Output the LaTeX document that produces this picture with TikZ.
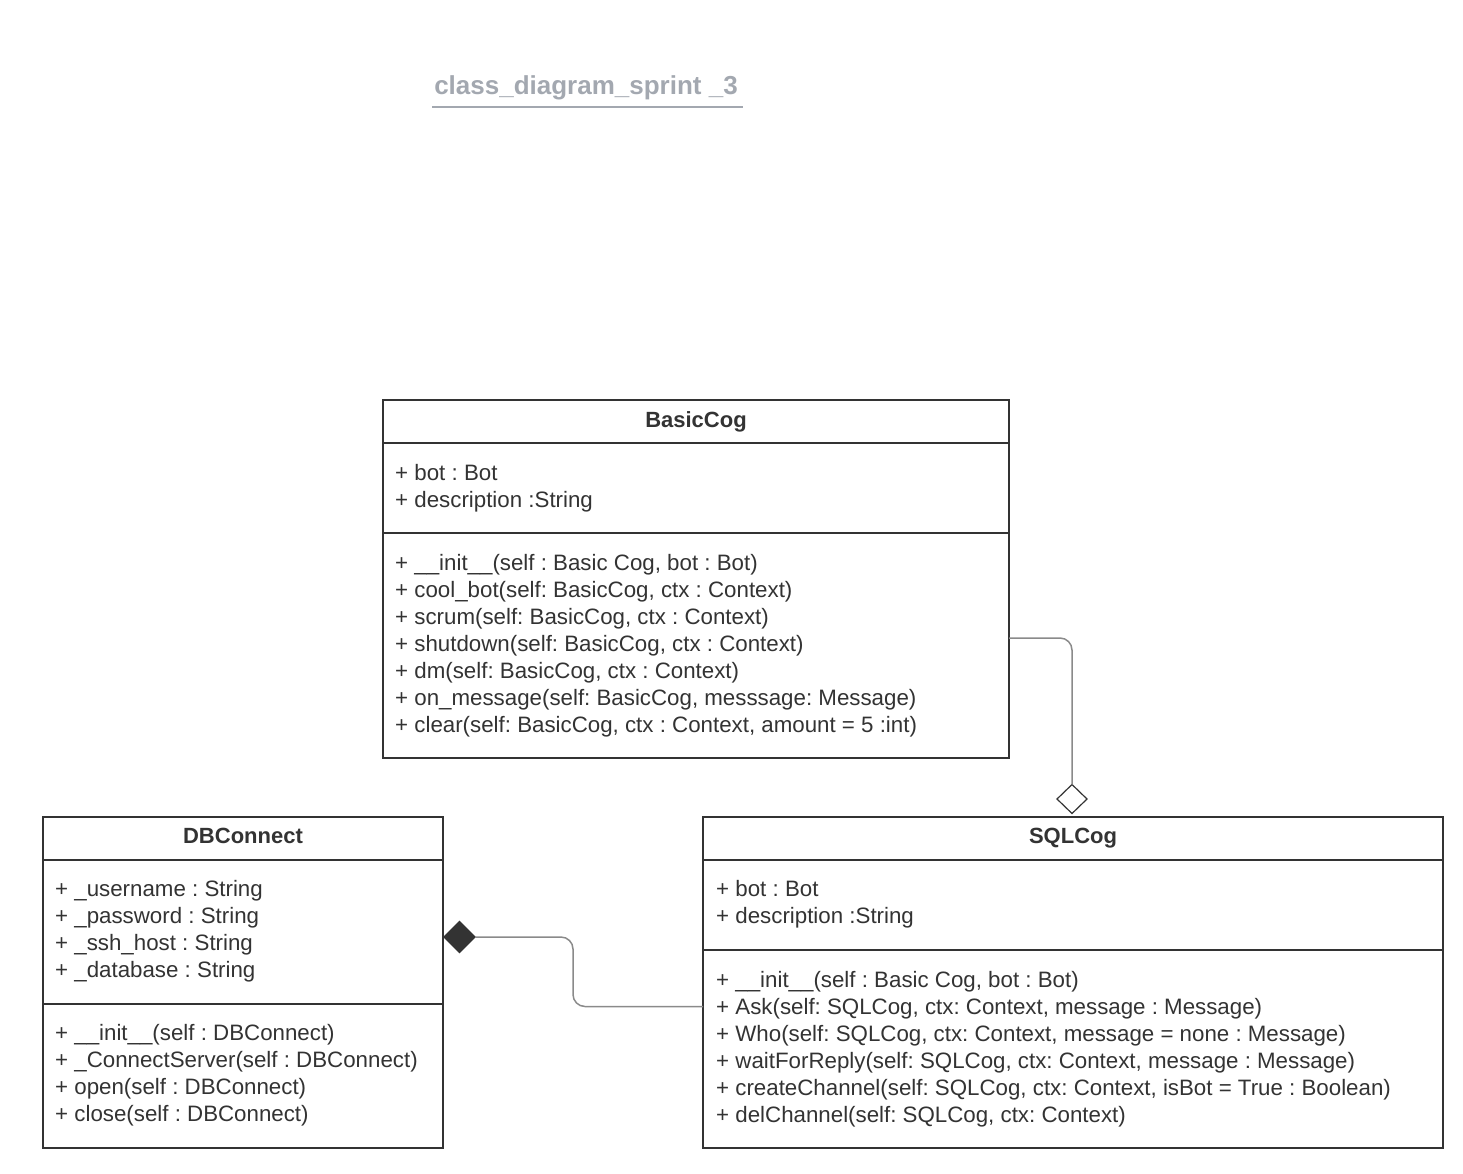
\documentclass[tikz,border=0pt]{standalone}
\usepackage{fontspec}
\setmainfont{Liberation Sans}
\usetikzlibrary{shapes.geometric}
\definecolor{ink}{HTML}{333333}
\definecolor{linkgray}{HTML}{8A8A8A}
\definecolor{titlegray}{HTML}{A3A8B0}
\frenchspacing
\begin{document}
\begin{tikzpicture}[x=1pt,y=-1pt,
  classbox/.style={draw=ink,line width=2pt,fill=white,anchor=north west,inner sep=0pt,outer sep=0pt},
  divider/.style={draw=ink,line width=2pt},
  member/.style={anchor=base west,inner sep=0pt,text=ink,font=\fontsize{22.3}{27}\selectfont},
  classname/.style={anchor=base,inner sep=0pt,text=ink,font=\fontsize{22}{27}\selectfont\bfseries},
  conn/.style={draw=linkgray,line width=1.5pt,rounded corners=12pt},
  aggdiamond/.style={shape=diamond,draw=ink,line width=1.2pt,fill=white,minimum width=30pt,minimum height=29pt,inner sep=0pt,outer sep=0pt},
  compdiamond/.style={shape=diamond,draw=ink,line width=1.2pt,fill=ink,minimum width=31pt,minimum height=31pt,inner sep=0pt,outer sep=0pt}]
\useasboundingbox (0,0) rectangle (1463,1173);

% document title
\node[anchor=base,inner sep=0pt,text=titlegray,font=\fontsize{26}{30}\selectfont\bfseries] (title) at (586,94) {class\_diagram\_sprint \_3};
\draw[titlegray,line width=2pt] (432,106.5) -- (743,106.5);

% ---------- BasicCog ----------
\node[classbox,minimum width=626pt,minimum height=358pt] (basic) at (383,400) {};
\draw[divider] (383,443) -- (1009,443);
\draw[divider] (383,533) -- (1009,533);
\node[classname] (basicname) at (696,427) {BasicCog};
\node[member] (ba1) at (395,480) {+ bot : Bot};
\node[member] (ba2) at (395,507) {+ description :String};
\node[member] (bm1) at (395,570) {+ \_\_init\_\_(self : Basic Cog, bot : Bot)};
\node[member] (bm2) at (395,597) {+ cool\_bot(self: BasicCog, ctx : Context)};
\node[member] (bm3) at (395,624) {+ scrum(self: BasicCog, ctx : Context)};
\node[member] (bm4) at (395,651) {+ shutdown(self: BasicCog, ctx : Context)};
\node[member] (bm5) at (395,678) {+ dm(self: BasicCog, ctx : Context)};
\node[member] (bm6) at (395,705) {+ on\_message(self: BasicCog, messsage: Message)};
\node[member] (bm7) at (395,732) {+ clear(self: BasicCog, ctx : Context, amount = 5 :int)};

% ---------- DBConnect ----------
\node[classbox,minimum width=400pt,minimum height=331pt] (db) at (43,817) {};
\draw[divider] (43,860) -- (443,860);
\draw[divider] (43,1004) -- (443,1004);
\node[classname] (dbname) at (243,843) {DBConnect};
\node[member] (da1) at (55,896) {+ \_username : String};
\node[member] (da2) at (55,923) {+ \_password : String};
\node[member] (da3) at (55,950) {+ \_ssh\_host : String};
\node[member] (da4) at (55,977) {+ \_database : String};
\node[member] (dm1) at (55,1040) {+ \_\_init\_\_(self : DBConnect)};
\node[member] (dm2) at (55,1067) {+ \_ConnectServer(self : DBConnect)};
\node[member] (dm3) at (55,1094) {+ open(self : DBConnect)};
\node[member] (dm4) at (55,1121) {+ close(self : DBConnect)};

% ---------- SQLCog ----------
\node[classbox,minimum width=740pt,minimum height=331pt] (sql) at (703,817) {};
\draw[divider] (703,860) -- (1443,860);
\draw[divider] (703,950) -- (1443,950);
\node[classname] (sqlname) at (1073,843) {SQLCog};
\node[member] (sa1) at (716,896) {+ bot : Bot};
\node[member] (sa2) at (716,923) {+ description :String};
\node[member] (sm1) at (716,987) {+ \_\_init\_\_(self : Basic Cog, bot : Bot)};
\node[member] (sm2) at (716,1014) {+ Ask(self: SQLCog, ctx: Context, message : Message)};
\node[member] (sm3) at (716,1041) {+ Who(self: SQLCog, ctx: Context, message = none : Message)};
\node[member] (sm4) at (716,1068) {+ waitForReply(self: SQLCog, ctx: Context, message : Message)};
\node[member] (sm5) at (716,1095) {+ createChannel(self: SQLCog, ctx: Context, isBot = True : Boolean)};
\node[member] (sm6) at (716,1122) {+ delChannel(self: SQLCog, ctx: Context)};

% ---------- relations ----------
% aggregation: SQLCog holds a BasicCog
\coordinate (basicport) at (1009,638);
\node[aggdiamond] (agg) at (1072,799) {};
\draw[conn] (basicport) -| (agg.north);

% composition: DBConnect composed with SQLCog
\coordinate (sqlport) at (703,1006.5);
\node[compdiamond] (comp) at (459.5,937) {};
\draw[conn] (comp.east) -- (573,937) -- (573,1006.5) -- (sqlport);
\end{tikzpicture}
\end{document}
